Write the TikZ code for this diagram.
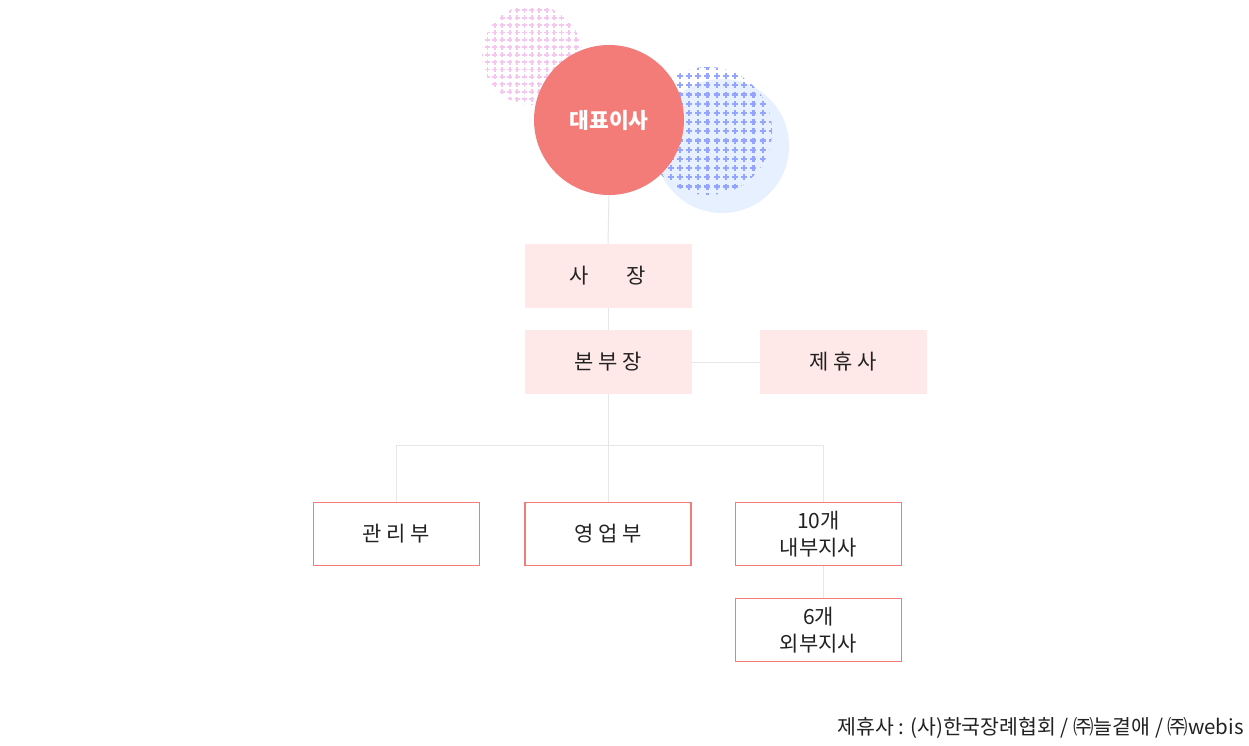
\documentclass[tikz,border=0pt]{standalone}
\usepackage{fontspec}
\setmainfont{Noto Sans CJK KR}
\definecolor{ceored}{HTML}{F47C78}
\definecolor{boxpink}{HTML}{FFE8E8}
\definecolor{linegray}{HTML}{E6E6E6}
\definecolor{skyblue}{HTML}{E6F0FF}
\definecolor{dotblue}{HTML}{95A5FF}
\definecolor{dotpink}{HTML}{F6C6F0}
\definecolor{ink}{HTML}{222222}
\tikzset{
	link/.style={draw=linegray, line width=1pt},
	softbox/.style={fill=boxpink, minimum width=167pt, minimum height=64pt, inner sep=0pt, text=ink, font=\fontsize{21}{27}\selectfont, align=center},
	linebox/.style={draw=ceored, line width=1.2pt, fill=white, minimum width=166pt, minimum height=63pt, inner sep=0pt, text=ink, font=\fontsize{21}{27}\selectfont, align=center},
	plusdot/.style={line width=2.2pt}
}
\begin{document}
\begin{tikzpicture}[x=1pt,y=-1pt]
		\useasboundingbox[fill=white] (0,0) rectangle (1249,746);
		\fill[skyblue] (722,146) circle (67);
		\begin{scope}
			\clip (708,131) circle (64);
			\foreach \i in {0,...,14} \foreach \j in {0,...,14} \draw[plusdot,dotblue] ({643+\i*9.2},{67+\j*9.2}) +(-3,0) -- +(3,0) +(0,-3) -- +(0,3);
		\end{scope}
		\begin{scope}
			\clip (532,55) circle (50);
			\foreach \i in {0,...,14} \foreach \j in {0,...,14} \draw[plusdot,dotpink,line width=1.8pt] ({480+\i*7.4},{3+\j*7.4}) +(-2.5,0) -- +(2.5,0) +(0,-2.5) -- +(0,2.5);
		\end{scope}
		\node[circle, fill=ceored, minimum size=150pt, inner sep=0pt, text=white, font=\fontsize{21.5}{25}\selectfont\bfseries] (ceo) at (609,120) {대표이사};
		
		\node[softbox] (president) at (608,276) {사\hspace{1.8em}장};
		\node[softbox] (head) at (608,362) {본 부 장};
		\node[softbox] (partner) at (843.5,362) {제 휴 사};
		
		\node[linebox] (admin) at (396.5,534) {관 리 부};
		\node[linebox] (sales) at (608,534) {영 업 부};
		\node[linebox] (inner) at (818.5,534) {10개\\내부지사};
		\node[linebox] (outer) at (818.5,630) {6개\\외부지사};
		
		\coordinate (fork) at (608,445);
		\draw[link] (ceo.south) -- (president.north);
		\draw[link] (president.south) -- (head.north);
		\draw[link] (head.east) -- (partner.west);
		\draw[link] (head.south) -- (fork);
		\draw[link] (fork) -| (admin.north);
		\draw[link] (fork) -- (sales.north);
		\draw[link] (fork) -| ([xshift=5pt]inner.north);
		\draw[link] ([xshift=5pt]inner.south) -- ([xshift=5pt]outer.north);
		
		\node[anchor=base east, text=ink, font=\fontsize{20.5}{24}\selectfont, inner sep=0pt] (note) at (1244,734) {제휴사 : (사)한국장례협회 / ㈜늘곁애 / ㈜webis};
\end{tikzpicture}
\end{document}
